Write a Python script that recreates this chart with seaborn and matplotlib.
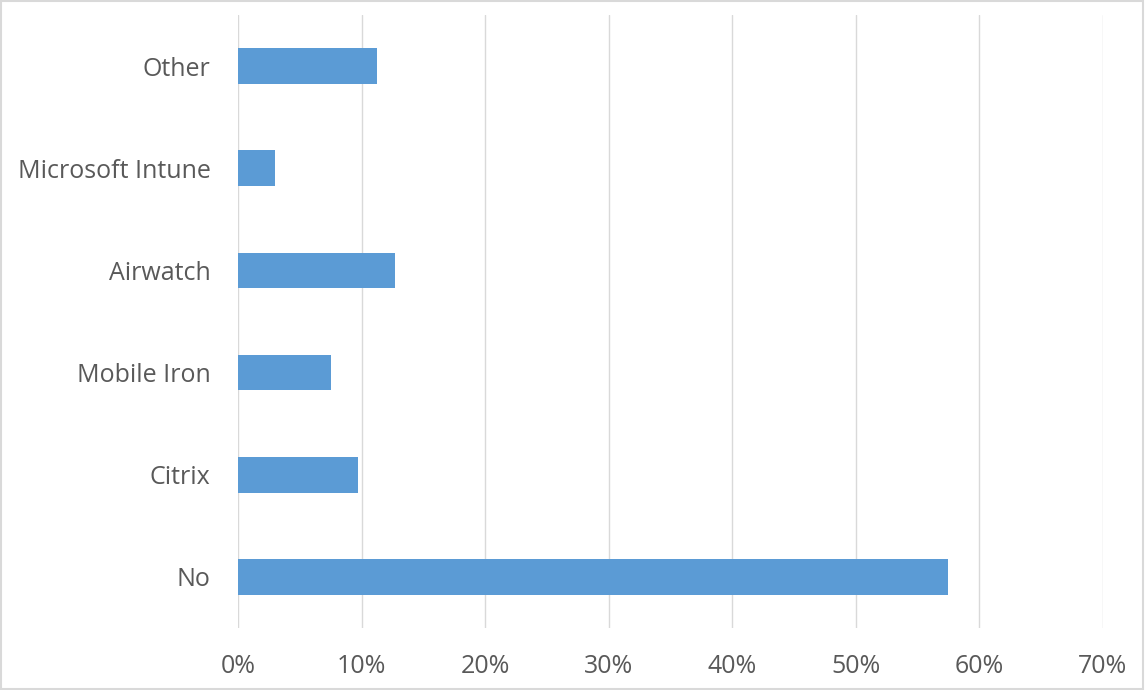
import matplotlib
matplotlib.use("Agg")
import matplotlib.pyplot as plt
from matplotlib.patches import Rectangle
from matplotlib.ticker import PercentFormatter
import pandas as pd
import seaborn as sns

# values (share of respondents, %)
products = ["Other", "Microsoft Intune", "Airwatch", "Mobile Iron", "Citrix", "No"]
shares = [11.2, 3.0, 12.7, 7.5, 9.7, 57.5]
xticks = [0, 10, 20, 30, 40, 50, 60, 70]

df = pd.DataFrame({"product": products, "share": shares})

sns.set_style("white")
plt.rcParams["font.family"] = ["Open Sans", "DejaVu Sans"]

fig = plt.figure(figsize=(11.45, 6.9), dpi=100)
ax = fig.add_axes([0.2081, 0.0899, 0.7555, 0.8884])

sns.barplot(data=df, x="share", y="product", order=products, orient="h",
            color="#5B9BD5", width=0.35, saturation=1, linewidth=0, ax=ax)

ax.set_xlim(0, 70.05)
ax.set_ylim(5.5, -0.5)
ax.set_xticks(xticks)
ax.xaxis.set_major_formatter(PercentFormatter(decimals=0))
ax.grid(axis="x", color="#D9D9D9", linewidth=1)
ax.set_axisbelow(True)
for s in ax.spines.values():
    s.set_visible(False)
ax.set_xlabel("")
ax.set_ylabel("")
ax.tick_params(axis="both", length=0, labelsize=18, colors="#595959")
ax.tick_params(axis="y", pad=20)
ax.tick_params(axis="x", pad=19)

# thin frame around the chart area
fig.patches.append(Rectangle((0.001, 0.001), 0.997, 0.997, transform=fig.transFigure,
                             fill=False, edgecolor="#D9D9D9", linewidth=1.5))

fig.savefig("out.png", dpi=100)
